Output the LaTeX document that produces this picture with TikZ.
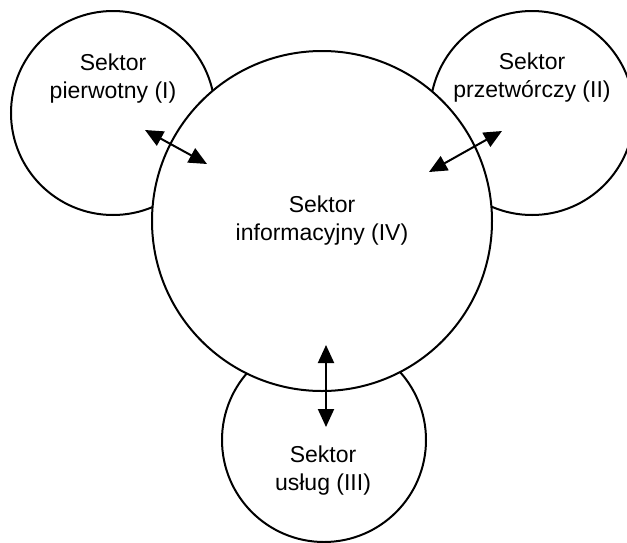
\documentclass[tikz,border=0pt]{standalone}
\usepackage{fontspec}
\setmainfont{Liberation Sans}
\usepackage{tikz}
\usetikzlibrary{arrows.meta, positioning}
\tikzset{
    sector/.style={circle, draw, line width=1pt, fill=white, inner sep=0pt},
    small/.style={sector, minimum size=102pt},
    big/.style={sector, minimum size=170pt},
    caption/.style={align=center, font=\fontsize{11.5}{14}\selectfont},
    link/.style={{Triangle[length=9pt,width=8pt]}-{Triangle[length=9pt,width=8pt]}, line width=1pt}
}
\begin{document}
\begin{tikzpicture}[x=0.5pt, y=-0.5pt]
    \useasboundingbox (0,0) rectangle (627,542);

    % Outer sectors
    \node[small] (prim) at (113,113) {};
    \node[small] (manu) at (532,113) {};
    \node[small] (serv) at (324,440) {};

    % Information sector
    \node[big] (info) at (322,221) {};

    % Labels
    \node[caption] (primtext) at (113,79) {Sektor\\pierwotny (I)};
    \node[caption] (manutext) at (532,78) {Sektor\\przetwórczy (II)};
    \node[caption] (servtext) at (323,471) {Sektor\\usług (III)};
    \node[caption] (infotext) at (322,221) {Sektor\\informacyjny (IV)};

    % Arrow ends
    \coordinate (p1) at (145,130);
    \coordinate (i1) at (207,164);
    \coordinate (p2) at (502,131);
    \coordinate (i2) at (429,172);
    \coordinate (p3) at (326,345);
    \coordinate (i3) at (326,427);

    % Bi-directional arrows
    \draw[link] (p1) -- (i1);
    \draw[link] (p2) -- (i2);
    \draw[link] (p3) -- (i3);
\end{tikzpicture}
\end{document}
